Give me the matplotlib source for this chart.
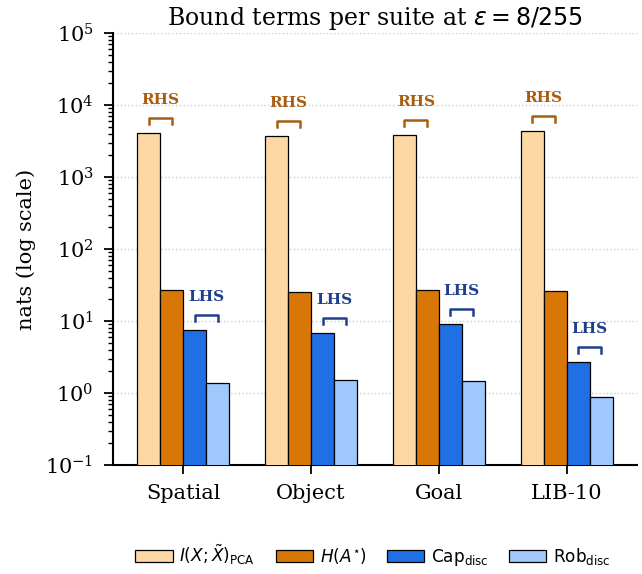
import matplotlib
matplotlib.use("Agg")
import matplotlib.pyplot as plt
import numpy as np

plt.rcParams['font.family'] = 'DejaVu Serif'
plt.rcParams['mathtext.fontset'] = 'dejavusans'

suites = ['Spatial', 'Object', 'Goal', 'LIB-10']
mi_pca = [4050, 3700, 3800, 4400]     # I(X; X~)_PCA
h_act = [27.0, 25.3, 26.7, 26.3]      # H(A*)
cap_disc = [7.6, 6.9, 9.2, 2.7]
rob_disc = [1.38, 1.5, 1.45, 0.88]

series = [
    (mi_pca, r'$I(X;\tilde{X})_{\mathrm{PCA}}$', '#fdd8a5'),
    (h_act, r'$H(A^{\star})$', '#d97706'),
    (cap_disc, r'$\mathrm{Cap}_{\mathrm{disc}}$', '#1f6fe5'),
    (rob_disc, r'$\mathrm{Rob}_{\mathrm{disc}}$', '#a0c8fc'),
]

x = np.arange(len(suites))
w = 0.18
offsets = [-1.5 * w, -0.5 * w, 0.5 * w, 1.5 * w]

fig, ax = plt.subplots(figsize=(6.42, 5.74), dpi=100)
fig.subplots_adjust(left=0.176, right=0.992, top=0.9425, bottom=0.19)

for (vals, label, color), off in zip(series, offsets):
    ax.bar(x + off, vals, w, color=color, edgecolor='black',
           linewidth=0.9, label=label, zorder=3)

ax.set_yscale('log')
ax.set_ylim(0.1, 1e5)
ax.set_xlim(-0.55, 3.55)
ax.set_xticks(x)
ax.set_xticklabels(suites, fontsize=15)
ax.tick_params(axis='both', which='major', length=6.5, width=1.3, pad=7.5)
ax.tick_params(axis='y', which='minor', length=3.5, width=1.0)
ax.tick_params(axis='y', labelsize=15)
ax.set_ylabel('nats (log scale)', fontsize=15, labelpad=7)
ax.set_title(r'Bound terms per suite at $\epsilon = 8/255$', fontsize=17)
ax.grid(axis='y', which='major', linestyle=':', color='#cccccc', linewidth=1.0, zorder=0)
ax.spines['top'].set_visible(False)
ax.spines['right'].set_visible(False)
ax.spines['left'].set_linewidth(1.5)
ax.spines['bottom'].set_linewidth(1.5)

# brackets: RHS over the first two bars, LHS over the last two
def bracket(x0, x1, top, text, color):
    yb = top * 10 ** (15 / 72)
    yd = yb / 10 ** (6 / 72)
    ax.plot([x0, x0, x1, x1], [yd, yb, yb, yd], color=color, linewidth=1.8, zorder=4)
    ax.text((x0 + x1) / 2, top * 10 ** (26 / 72), text, color=color, fontsize=11,
            fontweight='bold', ha='center', va='bottom')

for i in range(len(suites)):
    bracket(x[i] + offsets[0], x[i] + offsets[1], max(mi_pca[i], h_act[i]), 'RHS', '#a85d10')
    bracket(x[i] + offsets[2], x[i] + offsets[3], max(cap_disc[i], rob_disc[i]), 'LHS', '#1e3f8f')

fig.legend(loc='lower center', ncol=4, frameon=False, fontsize=12.2,
           bbox_to_anchor=(0.581, -0.016), handlelength=2.2, columnspacing=1.2,
           handletextpad=0.4)

fig.savefig('out.png', dpi=100)
